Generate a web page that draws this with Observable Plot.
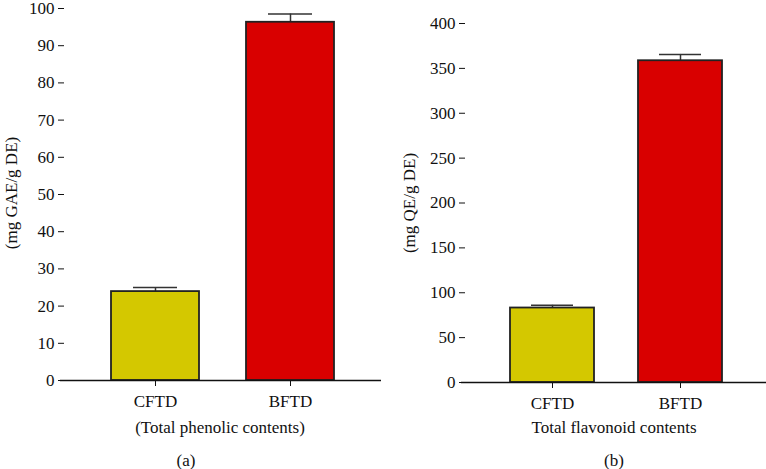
<!DOCTYPE html>
<html>
<head>
<meta charset="utf-8">
<script src="https://cdn.jsdelivr.net/npm/d3@7"></script>
<script src="https://cdn.jsdelivr.net/npm/@observablehq/plot@0.6"></script>
<style>
  body { margin: 0; background: #fff; }
  #wrap { position: relative; width: 766px; height: 469px; font-family: "Liberation Serif", "DejaVu Serif", serif; }
  .panel { position: absolute; top: 0; overflow: visible; }
  .panel text { font-family: "Liberation Serif", "DejaVu Serif", serif; font-size: 17px; fill: #111; }
  .cap { position: absolute; font-size: 17px; line-height: 20px; color: #111; text-align: center; white-space: nowrap; }
</style>
</head>
<body>
<div id="wrap"></div>
<script>
const categories = ["CFTD", "BFTD"];
const phenolicValues = [23.9, 96.3];
const phenolicErrors = [1.1, 2.2];
const flavonoidValues = [83, 358.5];
const flavonoidErrors = [3, 7];
const barColors = ["#d4c800", "#d90000"];
const phenolicTicks = [0, 10, 20, 30, 40, 50, 60, 70, 80, 90, 100];
const flavonoidTicks = [0, 50, 100, 150, 200, 250, 300, 350, 400];

function panel(values, errors, ticks, yMax, opts) {
  const data = categories.map((c, i) => ({cat: c, v: values[i], e: values[i] + errors[i], color: barColors[i]}));
  return Plot.plot({
    width: opts.width,
    height: 469,
    marginLeft: opts.marginLeft,
    marginRight: opts.marginRight,
    marginTop: opts.marginTop,
    marginBottom: opts.marginBottom,
    style: {fontFamily: '"Liberation Serif", serif', fontSize: "17px", color: "#111", background: "transparent", overflow: "visible"},
    x: {type: "band", domain: categories, paddingInner: opts.pad, paddingOuter: opts.pad, align: 0.5, label: null},
    y: {domain: [0, yMax], label: null},
    marks: [
      Plot.ruleX(data, {x: "cat", y1: "v", y2: "e", stroke: "#333", strokeWidth: 1.5}),
      Plot.tickY(data, {x: "cat", y: "e", stroke: "#333", strokeWidth: 1.5, insetLeft: opts.capInset, insetRight: opts.capInset}),
      Plot.barY(data, {x: "cat", y: "v", fill: "color", stroke: "#222", strokeWidth: 1.8}),
      Plot.axisY({ticks: ticks, tickSize: 6, tickPadding: 4, fontSize: 17, label: null}),
      Plot.ruleX([0], {frameAnchor: "left", stroke: "#111", strokeWidth: 1.5}),
      Plot.axisX({tickSize: 6, tickPadding: 8, fontSize: 17, label: null}),
      Plot.ruleY([0], {stroke: "#111", strokeWidth: 1.5, insetLeft: -4})
    ]
  });
}

const wrap = document.getElementById("wrap");

const a = panel(phenolicValues, phenolicErrors, phenolicTicks, 100,
  {width: 383, marginLeft: 64, marginRight: 2, marginTop: 8, marginBottom: 89, pad: 0.346, capInset: 22});
a.classList.add("panel"); a.style.left = "0px";
wrap.appendChild(a);

const b = panel(flavonoidValues, flavonoidErrors, flavonoidTicks, 400,
  {width: 383, marginLeft: 82, marginRight: 0, marginTop: 23, marginBottom: 87, pad: 0.344, capInset: 21});
b.classList.add("panel"); b.style.left = "383px";
wrap.appendChild(b);

function cap(text, cx, cy) {
  const d = document.createElement("div");
  d.className = "cap"; d.textContent = text;
  d.style.width = "300px"; d.style.left = (cx - 150) + "px"; d.style.top = (cy - 10) + "px";
  wrap.appendChild(d);
  return d;
}
cap("(Total phenolic contents)", 220, 428);
cap("(a)", 186, 461);
cap("Total flavonoid contents", 614, 428);
cap("(b)", 614, 461);

function ylab(text, cx, cy) {
  const d = cap(text, cx, cy);
  d.style.transform = "rotate(-90deg)";
}
ylab("(mg GAE/g DE)", 12, 193);
ylab("(mg QE/g DE)", 410, 203);
</script>
</body>
</html>
